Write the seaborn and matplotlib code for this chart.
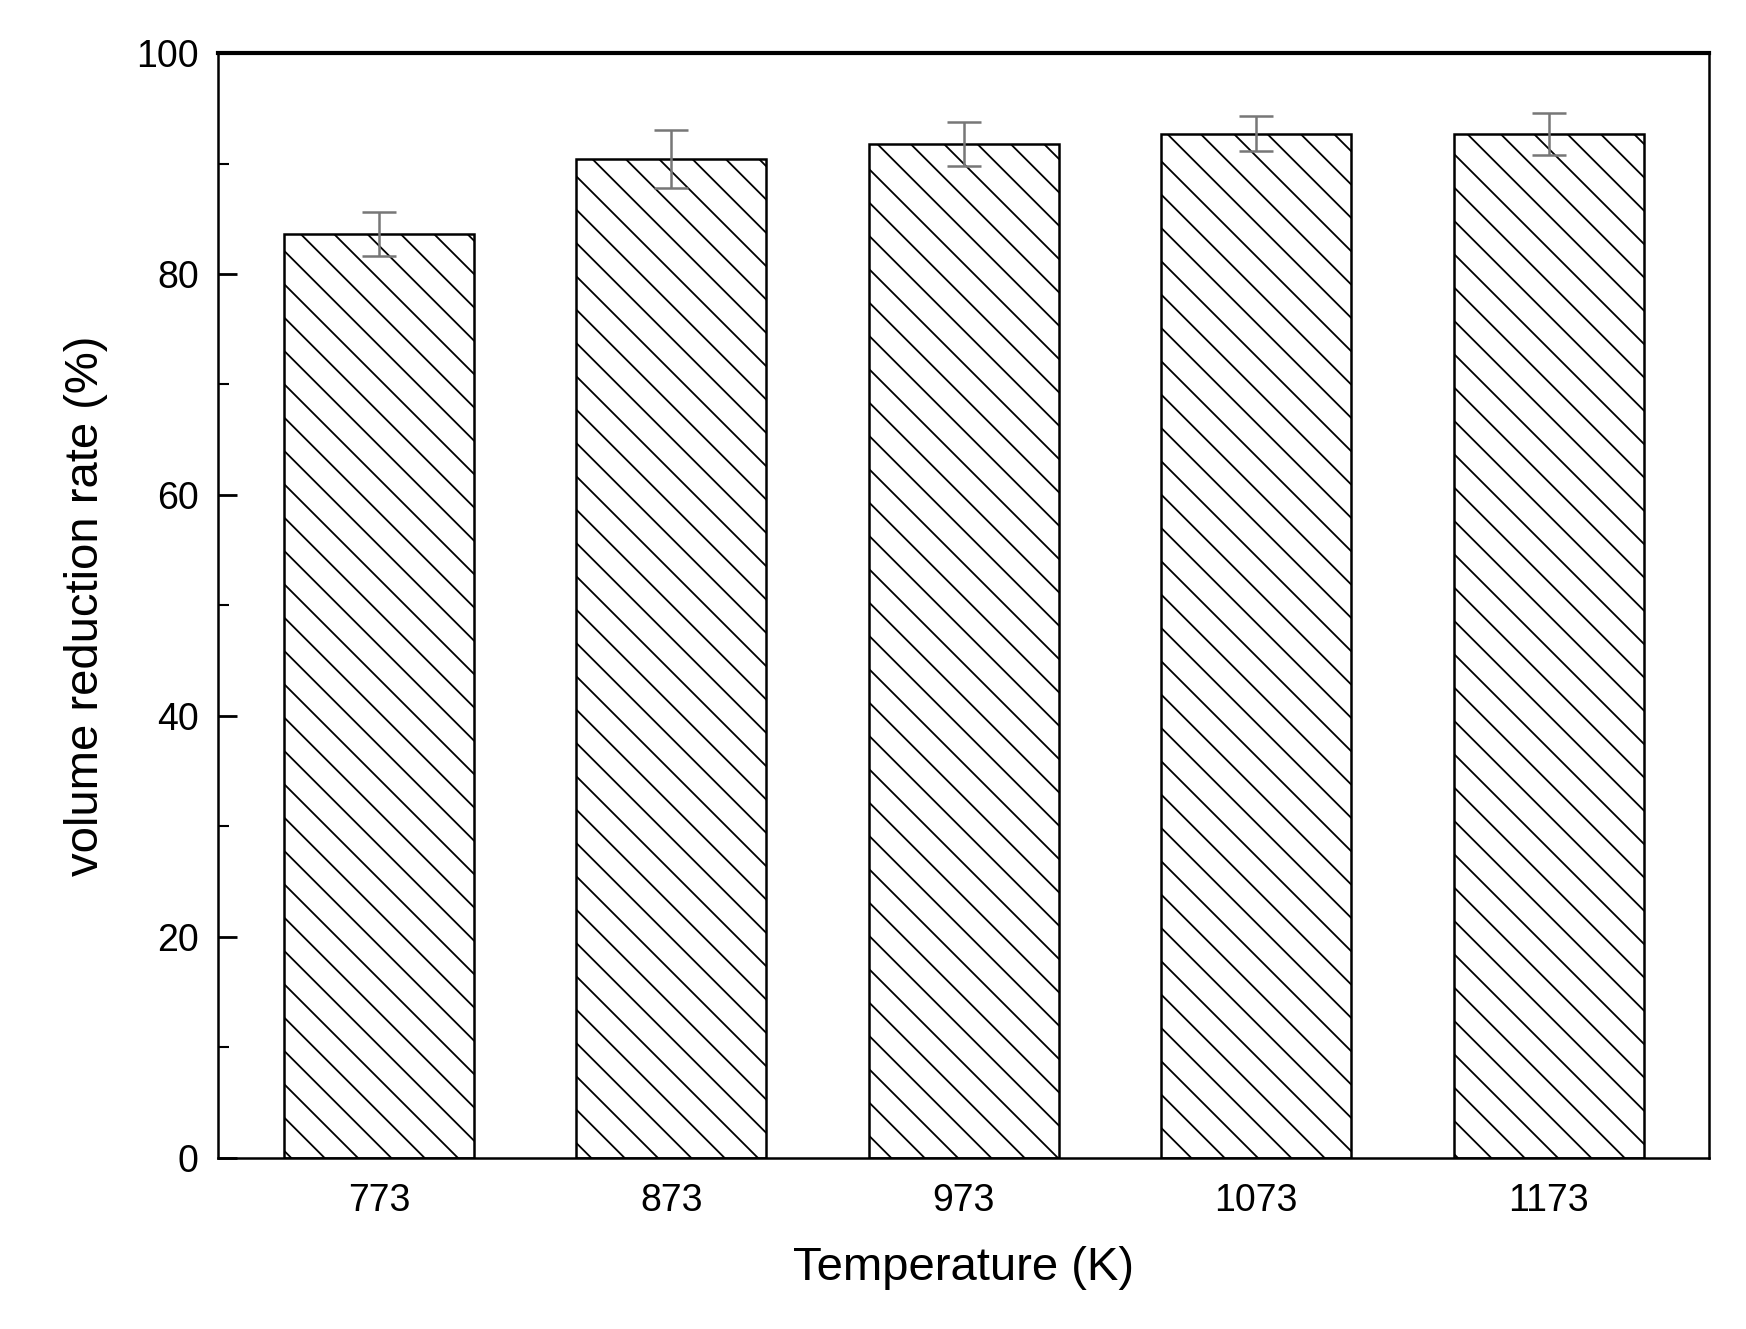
from matplotlib import pyplot as plt
from matplotlib.ticker import MultipleLocator
import seaborn as sns
import numpy as np

# Dados
temperaturas = ['773', '873', '973', '1073', '1173']
reducao = [83.6, 90.4, 91.8, 92.7, 92.7]
erro = [2.0, 2.6, 2.0, 1.6, 1.9]

sns.set_style('white')
plt.rcParams['font.family'] = ['Liberation Sans', 'DejaVu Sans']
plt.rcParams['hatch.linewidth'] = 1.3
plt.rcParams['text.color'] = 'black'
plt.rcParams['axes.labelcolor'] = 'black'
plt.rcParams['xtick.color'] = 'black'
plt.rcParams['ytick.color'] = 'black'

fig = plt.figure(figsize=(17.46, 13.29), dpi=100)
ax = fig.add_axes([0.125, 0.129, 0.854, 0.831])

sns.barplot(x=temperaturas, y=reducao, color='white', edgecolor='black',
            linewidth=1.8, width=0.65, ax=ax, errorbar=None)
for bar in ax.patches:
    bar.set_hatch('\\')
ax.errorbar(np.arange(len(temperaturas)), reducao, yerr=erro, fmt='none',
            ecolor='#777777', elinewidth=1.8, capsize=12, capthick=1.8)

ax.set_ylim(0, 100)
ax.set_xlim(-0.55, 4.55)
ax.yaxis.set_major_locator(MultipleLocator(20))
ax.yaxis.set_minor_locator(MultipleLocator(10))
ax.tick_params(axis='y', which='major', direction='in', length=14, width=2,
               labelsize=27, left=True, pad=14)
ax.tick_params(axis='y', which='minor', direction='in', length=8, width=1.5, left=True)
ax.tick_params(axis='x', length=0, labelsize=27, pad=18)
for s in ax.spines.values():
    s.set_visible(True)
    s.set_color('black')
    s.set_linewidth(1.8)
ax.spines['top'].set_linewidth(3)

ax.set_xlabel('Temperature (K)', fontsize=34, labelpad=20)
ax.set_ylabel('volume reduction rate (%)', fontsize=34, labelpad=20)

fig.savefig('out.png', dpi=100)
